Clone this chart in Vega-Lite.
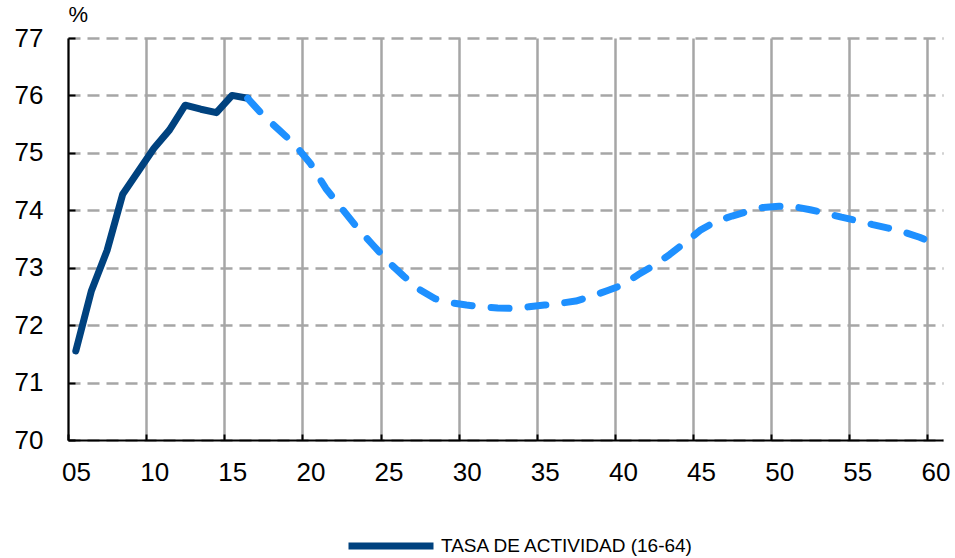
{
  "$schema": "https://vega.github.io/schema/vega-lite/v6.json",
  "width": 875,
  "height": 402,
  "autosize": "none",
  "padding": {"left": 68, "top": 38, "right": 12, "bottom": 118},
  "background": "white",
  "config": {"view": {"stroke": null}, "font": "Liberation Sans"},
  "data": {"values": [
    {"year": 2005, "value": 71.55, "serie": "TASA DE ACTIVIDAD (16-64)"},
    {"year": 2006, "value": 72.6, "serie": "TASA DE ACTIVIDAD (16-64)"},
    {"year": 2007, "value": 73.3, "serie": "TASA DE ACTIVIDAD (16-64)"},
    {"year": 2008, "value": 74.28, "serie": "TASA DE ACTIVIDAD (16-64)"},
    {"year": 2009, "value": 74.68, "serie": "TASA DE ACTIVIDAD (16-64)"},
    {"year": 2010, "value": 75.08, "serie": "TASA DE ACTIVIDAD (16-64)"},
    {"year": 2011, "value": 75.4, "serie": "TASA DE ACTIVIDAD (16-64)"},
    {"year": 2012, "value": 75.83, "serie": "TASA DE ACTIVIDAD (16-64)"},
    {"year": 2013, "value": 75.76, "serie": "TASA DE ACTIVIDAD (16-64)"},
    {"year": 2014, "value": 75.7, "serie": "TASA DE ACTIVIDAD (16-64)"},
    {"year": 2015, "value": 76.0, "serie": "TASA DE ACTIVIDAD (16-64)"},
    {"year": 2016, "value": 75.95, "serie": "TASA DE ACTIVIDAD (16-64)"},
    {"year": 2016, "value": 75.95, "serie": "Proyección"},
    {"year": 2017, "value": 75.65, "serie": "Proyección"},
    {"year": 2018, "value": 75.4, "serie": "Proyección"},
    {"year": 2019, "value": 75.15, "serie": "Proyección"},
    {"year": 2020, "value": 74.82, "serie": "Proyección"},
    {"year": 2021, "value": 74.38, "serie": "Proyección"},
    {"year": 2022, "value": 74.04, "serie": "Proyección"},
    {"year": 2023, "value": 73.7, "serie": "Proyección"},
    {"year": 2024, "value": 73.4, "serie": "Proyección"},
    {"year": 2025, "value": 73.1, "serie": "Proyección"},
    {"year": 2026, "value": 72.85, "serie": "Proyección"},
    {"year": 2027, "value": 72.62, "serie": "Proyección"},
    {"year": 2028, "value": 72.46, "serie": "Proyección"},
    {"year": 2029, "value": 72.39, "serie": "Proyección"},
    {"year": 2030, "value": 72.35, "serie": "Proyección"},
    {"year": 2031, "value": 72.32, "serie": "Proyección"},
    {"year": 2032, "value": 72.3, "serie": "Proyección"},
    {"year": 2033, "value": 72.29, "serie": "Proyección"},
    {"year": 2034, "value": 72.32, "serie": "Proyección"},
    {"year": 2035, "value": 72.35, "serie": "Proyección"},
    {"year": 2036, "value": 72.38, "serie": "Proyección"},
    {"year": 2037, "value": 72.42, "serie": "Proyección"},
    {"year": 2038, "value": 72.5, "serie": "Proyección"},
    {"year": 2039, "value": 72.6, "serie": "Proyección"},
    {"year": 2040, "value": 72.7, "serie": "Proyección"},
    {"year": 2041, "value": 72.88, "serie": "Proyección"},
    {"year": 2042, "value": 73.04, "serie": "Proyección"},
    {"year": 2043, "value": 73.23, "serie": "Proyección"},
    {"year": 2044, "value": 73.44, "serie": "Proyección"},
    {"year": 2045, "value": 73.66, "serie": "Proyección"},
    {"year": 2046, "value": 73.81, "serie": "Proyección"},
    {"year": 2047, "value": 73.9, "serie": "Proyección"},
    {"year": 2048, "value": 73.98, "serie": "Proyección"},
    {"year": 2049, "value": 74.05, "serie": "Proyección"},
    {"year": 2050, "value": 74.07, "serie": "Proyección"},
    {"year": 2051, "value": 74.06, "serie": "Proyección"},
    {"year": 2052, "value": 74.01, "serie": "Proyección"},
    {"year": 2053, "value": 73.95, "serie": "Proyección"},
    {"year": 2054, "value": 73.88, "serie": "Proyección"},
    {"year": 2055, "value": 73.82, "serie": "Proyección"},
    {"year": 2056, "value": 73.75, "serie": "Proyección"},
    {"year": 2057, "value": 73.69, "serie": "Proyección"},
    {"year": 2058, "value": 73.62, "serie": "Proyección"},
    {"year": 2059, "value": 73.53, "serie": "Proyección"},
    {"year": 2060, "value": 73.42, "serie": "Proyección"}
  ]},
  "encoding": {
    "x": {
      "field": "year", "type": "quantitative",
      "scale": {"domain": [2004.5, 2060.5], "nice": false, "zero": false},
      "axis": {
        "title": null,
        "values": [2004.5, 2009.5, 2014.5, 2019.5, 2024.5, 2029.5, 2034.5, 2039.5, 2044.5, 2049.5, 2054.5, 2059.5],
        "labelExpr": "substring(toString(datum.value + 0.5), 2, 4)",
        "labelOffset": 8,
        "labelFontSize": 26,
        "labelColor": "black",
        "labelPadding": 25,
        "labelFlush": false,
        "labelOverlap": false,
        "labelBound": false,
        "tickSize": -6,
        "tickColor": "black",
        "tickWidth": 2,
        "domainColor": "black",
        "domainWidth": 2,
        "grid": true,
        "gridColor": "#A6A6A6",
        "gridWidth": 2.5
      }
    },
    "y": {
      "field": "value", "type": "quantitative",
      "scale": {"domain": [70, 77], "nice": false, "zero": false},
      "axis": {
        "title": "%",
        "titleAngle": 0,
        "titleX": 0,
        "titleY": -12,
        "titleAlign": "left",
        "titleBaseline": "bottom",
        "titleFontSize": 22,
        "titleFontWeight": "normal",
        "titleColor": "black",
        "values": [70, 71, 72, 73, 74, 75, 76, 77],
        "labelFontSize": 26,
        "labelColor": "black",
        "labelPadding": 32,
        "tickSize": -7,
        "tickColor": "black",
        "tickWidth": 2,
        "domainColor": "black",
        "domainWidth": 2,
        "grid": true,
        "gridColor": "#A6A6A6",
        "gridWidth": 2.5,
        "gridDash": [12, 7]
      }
    }
  },
  "layer": [
    {
      "transform": [{"filter": "datum.serie != 'Proyección'"}],
      "mark": {"type": "line", "strokeWidth": 7, "strokeCap": "round", "strokeJoin": "round"},
      "encoding": {
        "color": {
          "field": "serie", "type": "nominal",
          "scale": {"range": ["#00427F"]},
          "legend": {
            "orient": "none",
            "legendX": 277,
            "legendY": 462,
            "title": null,
            "symbolType": "stroke",
            "symbolSize": 7225,
            "symbolStrokeWidth": 7,
            "labelFont": "Liberation Sans",
            "labelFontSize": 19,
            "labelLimit": 400,
            "labelColor": "black",
            "labelOffset": 4
          }
        }
      }
    },
    {
      "transform": [{"filter": "datum.serie == 'Proyección'"}],
      "mark": {"type": "line", "color": "#1E90FF", "strokeWidth": 7, "strokeDash": [18, 19], "strokeCap": "round", "strokeJoin": "round"}
    }
  ]
}
